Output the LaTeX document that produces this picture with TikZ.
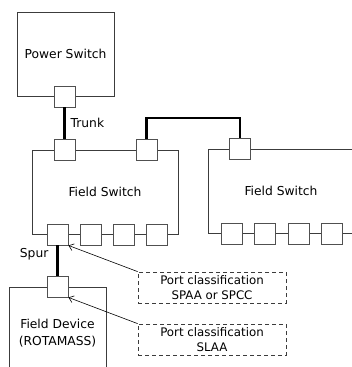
\documentclass[tikz,border=0pt]{standalone}
\usepackage{fontspec}
\setmainfont{DejaVu Sans}
\usetikzlibrary{arrows.meta}
\definecolor{boxgray}{HTML}{3C3C3C}
\definecolor{portgray}{HTML}{505050}

\begin{document}
\begin{tikzpicture}[x=1pt, y=-1pt,
    unitbox/.style={draw=boxgray, line width=0.9pt, inner sep=0pt, align=center,
        font=\fontsize{12.3}{17}\selectfont},
    port/.style={draw=portgray, fill=white, line width=0.9pt, minimum size=21pt, inner sep=0pt},
    cable/.style={line width=2.3pt, black},
    note/.style={draw=boxgray, dashed, dash pattern=on 4pt off 3pt, line width=0.8pt,
        minimum width=148pt, minimum height=31pt, inner sep=0pt, align=center,
        font=\fontsize{11.8}{15}\selectfont},
    pointer/.style={-{Straight Barb[length=4.5pt, width=7pt]}, line width=0.6pt, black},
    cablelabel/.style={font=\fontsize{12.3}{15}\selectfont}]

    \useasboundingbox (0,0) rectangle (352,367);
    \clip (0,0) rectangle (352,367);

    % Units
        \node[unitbox, minimum width=97pt, minimum height=84pt] (power) at (65.5,54) {Power Switch};
        \node[unitbox, minimum width=146pt, minimum height=84pt] (fs1) at (105,192) {Field Switch};
        \node[unitbox, minimum width=146pt, minimum height=84pt] (fs2) at (281,191) {Field Switch};
        \node[unitbox, minimum width=97pt, minimum height=93pt] (device) at (57.5,333.5) {Field Device\\(ROTAMASS)};

    % Ports
        \node[port] (psport) at (64.5,96.5) {};
        \node[port] (fs1t1) at (64.5,149.5) {};
        \node[port] (fs1t2) at (146.5,149.5) {};
        \node[port] (fs2t) at (240,149) {};
        \foreach \i in {1,...,4} {
            \node[port] (fs1b\i) at ({57.5+33.3*(\i-1)},234.5) {};
            \node[port] (fs2b\i) at ({232+33.3*(\i-1)},233.5) {};
        }
        \node[port] (devport) at (57.5,286.5) {};

    % Cables
        \draw[cable] (psport.south) -- node[cablelabel, right, inner sep=5pt] {Trunk} (fs1t1.north);
        \draw[cable] (fs1t2.north) -- ++(0,-20.5) -| (fs2t.north);
        \draw[cable] (fs1b1.south) -- node[cablelabel, pos=0.3, left, inner sep=8pt] {Spur} (devport.north);

    % Port classification notes
        \node[note] (note1) at (212,287.5) {Port classification\\SPAA or SPCC};
        \node[note] (note2) at (212,339.5) {Port classification\\SLAA};
        \draw[pointer] (note1.north west) -- (fs1b1.south east);
        \draw[pointer] (note2.north west) -- (devport.south east);

\end{tikzpicture}
\end{document}
